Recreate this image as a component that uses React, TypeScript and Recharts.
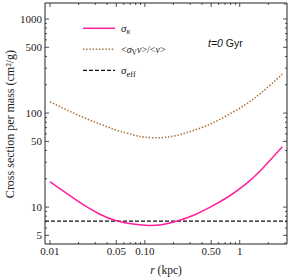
import React from 'react';
import { LineChart, Line, XAxis, YAxis, ReferenceLine, Legend } from 'recharts';

// r (kpc)
const radii = [0.01, 0.015, 0.0224, 0.0336, 0.05, 0.075, 0.1, 0.15, 0.224, 0.336, 0.5, 0.75, 1.13, 1.69, 2.81];
// sigma_kappa (cm^2/g)
const sigmaKappa = [18.6, 14.0, 10.6, 8.4, 7.15, 6.6, 6.4, 6.5, 7.15, 8.3, 10.1, 12.8, 17.2, 25.0, 43.8];
// <sigma_V v>/<v> (cm^2/g)
const sigmaVAvg = [132, 108, 90, 76.4, 65.9, 58.8, 55.3, 54.8, 58.3, 65.9, 77, 95.2, 121.7, 164.6, 259];
// sigma_eff (cm^2/g)
const sigmaEff = 7.1;

const xMajorTicks = [0.01, 0.05, 0.1, 0.5, 1];
const xMajorLabels = ['0.01', '0.05', '0.10', '0.50', '1'];
const xMinorTicks = [0.02, 0.03, 0.04, 0.06, 0.07, 0.08, 0.09, 0.2, 0.3, 0.4, 0.6, 0.7, 0.8, 0.9, 2, 3];
const yMajorTicks = [5, 10, 50, 100, 500, 1000];
const yMajorLabels = ['5', '10', '50', '100', '500', '1000'];
const yMinorTicks = [6, 7, 8, 9, 20, 30, 40, 60, 70, 80, 90, 200, 300, 400, 600, 700, 800, 900];

const xDomain = [0.00886, 3.15];
const yDomain = [4.05, 1480];

const data = radii.map((r, i) => ({ r, k: sigmaKappa[i], v: sigmaVAvg[i] }));

const FRAME = '#222';
const MAGENTA = '#ff1f9a';
const BROWN = '#a8703c';
const SERIF = '"Liberation Serif", "Times New Roman", serif';
const SANS = '"Liberation Sans", Arial, sans-serif';

const xTicksAll = [...xMajorTicks, ...xMinorTicks].sort((a, b) => a - b);
const yTicksAll = [...yMajorTicks, ...yMinorTicks].sort((a, b) => a - b);

const makeTick = (side: 'bottom' | 'top' | 'left' | 'right') => (props: any) => {
  const { x, y, payload } = props;
  const v = payload.value;
  const isX = side === 'bottom' || side === 'top';
  const idx = isX ? xMajorTicks.indexOf(v) : yMajorTicks.indexOf(v);
  const len = idx >= 0 ? 4 : 2;
  let line;
  if (side === 'bottom') line = <line x1={x} y1={y} x2={x} y2={y - len} stroke={FRAME} strokeWidth={0.8} />;
  else if (side === 'top') line = <line x1={x} y1={y} x2={x} y2={y + len} stroke={FRAME} strokeWidth={0.8} />;
  else if (side === 'left') line = <line x1={x} y1={y} x2={x + len} y2={y} stroke={FRAME} strokeWidth={0.8} />;
  else line = <line x1={x} y1={y} x2={x - len} y2={y} stroke={FRAME} strokeWidth={0.8} />;
  let label = null;
  if (idx >= 0 && side === 'bottom') {
    label = (
      <text x={x} y={y + 11} textAnchor="middle" fontFamily={SERIF} fontSize={11} fill="#222">
        {xMajorLabels[idx]}
      </text>
    );
  } else if (idx >= 0 && side === 'left') {
    label = (
      <text x={x - 3} y={y} dy="0.35em" textAnchor="end" fontFamily={SERIF} fontSize={11} fill="#222">
        {yMajorLabels[idx]}
      </text>
    );
  }
  return (
    <g>
      {line}
      {label}
    </g>
  );
};

const Overlay = () => (
  <svg width={290} height={280} style={{ position: 'absolute', left: 0, top: 0, pointerEvents: 'none' }}>
    {/* legend */}
    <line x1={83} y1={28.3} x2={115} y2={28.3} stroke={MAGENTA} strokeWidth={1.5} />
    <line x1={83} y1={49.3} x2={115} y2={49.3} stroke={BROWN} strokeWidth={1.6} strokeDasharray="1.4 1.8" />
    <line x1={83} y1={70.3} x2={115} y2={70.3} stroke="#111" strokeWidth={1.3} strokeDasharray="4 2" />
    <text x={121} y={31.5} fontFamily={SERIF} fontSize={11} fill="#222">
      <tspan fontStyle="italic">σ</tspan>
      <tspan fontStyle="italic" fontSize={8} dy={2.5}>κ</tspan>
    </text>
    <text x={121} y={52.5} fontFamily={SERIF} fontSize={10} fill="#222">
      <tspan>&lt;</tspan>
      <tspan fontStyle="italic">σ</tspan>
      <tspan fontSize={7.5} dy={2.5}>V</tspan>
      <tspan fontStyle="italic" dy={-2.5}>v</tspan>
      <tspan>&gt;/&lt;</tspan>
      <tspan fontStyle="italic">v</tspan>
      <tspan>&gt;</tspan>
    </text>
    <text x={121} y={73.5} fontFamily={SERIF} fontSize={11} fill="#222">
      <tspan fontStyle="italic">σ</tspan>
      <tspan fontSize={8.5} dy={3}>eff</tspan>
    </text>
    {/* annotation */}
    <text x={208} y={46.5} fontFamily={SANS} fontSize={10.5} fill="#111">
      <tspan fontStyle="italic">t=0</tspan>
      <tspan> Gyr</tspan>
    </text>
    {/* axis titles */}
    <text
      x={0}
      y={0}
      transform="translate(13.5 124) rotate(-90)"
      textAnchor="middle"
      fontFamily={SERIF}
      fontSize={12}
      fill="#222"
    >
      Cross section per mass (cm²/g)
    </text>
    <text x={166} y={273.5} textAnchor="middle" fontFamily={SERIF} fontSize={11.5} fill="#222">
      <tspan fontStyle="italic">r</tspan>
      <tspan> (kpc)</tspan>
    </text>
  </svg>
);

export default function App() {
  return (
    <div style={{ position: 'absolute', left: 0, top: 0, width: 290, height: 280, background: '#fff' }}>
      <LineChart width={290} height={280} data={data} margin={{ top: 2, right: 2, bottom: 0, left: 0 }}>
        <XAxis
          xAxisId="b"
          dataKey="r"
          type="number"
          scale="log"
          domain={xDomain}
          allowDataOverflow
          ticks={xTicksAll}
          interval={0}
          tickSize={0}
          tickMargin={0}
          tickLine={false}
          tick={makeTick('bottom')}
          axisLine={{ stroke: FRAME, strokeWidth: 1 }}
          height={36}
          orientation="bottom"
        />
        <XAxis
          xAxisId="t"
          dataKey="r"
          type="number"
          scale="log"
          domain={xDomain}
          allowDataOverflow
          ticks={xTicksAll}
          interval={0}
          tickSize={0}
          tickMargin={0}
          tickLine={false}
          tick={makeTick('top')}
          axisLine={{ stroke: FRAME, strokeWidth: 1 }}
          height={1}
          orientation="top"
        />
        <YAxis
          yAxisId="l"
          type="number"
          scale="log"
          domain={yDomain}
          allowDataOverflow
          ticks={yTicksAll}
          interval={0}
          tickSize={0}
          tickMargin={0}
          tickLine={false}
          tick={makeTick('left')}
          axisLine={{ stroke: FRAME, strokeWidth: 1 }}
          width={45}
          orientation="left"
        />
        <YAxis
          yAxisId="r"
          type="number"
          scale="log"
          domain={yDomain}
          allowDataOverflow
          ticks={yTicksAll}
          interval={0}
          tickSize={0}
          tickMargin={0}
          tickLine={false}
          tick={makeTick('right')}
          axisLine={{ stroke: FRAME, strokeWidth: 1 }}
          width={1}
          orientation="right"
        />
        <ReferenceLine
          xAxisId="b"
          yAxisId="l"
          y={sigmaEff}
          stroke="#111"
          strokeWidth={1.3}
          strokeDasharray="4 2"
        />
        <Line
          xAxisId="b"
          yAxisId="l"
          type="natural"
          dataKey="v"
          stroke={BROWN}
          strokeWidth={1.6}
          strokeDasharray="1.4 1.8"
          dot={false}
          isAnimationActive={false}
        />
        <Line
          xAxisId="b"
          yAxisId="l"
          type="natural"
          dataKey="k"
          stroke={MAGENTA}
          strokeWidth={1.5}
          dot={false}
          isAnimationActive={false}
        />
        <Legend
          layout="vertical"
          align="center"
          verticalAlign="middle"
          content={() => <Overlay />}
          wrapperStyle={{ left: 0, top: 0, width: 290, height: 280, pointerEvents: 'none' }}
        />
      </LineChart>
    </div>
  );
}
